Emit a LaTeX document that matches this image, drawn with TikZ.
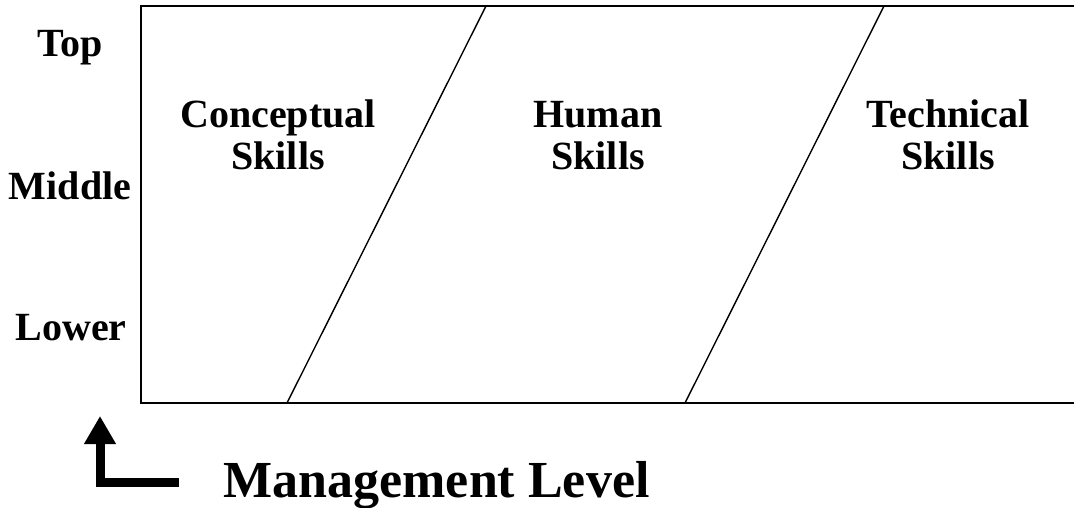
\documentclass[tikz,border=0pt]{standalone}
\usepackage{fontspec}
\setmainfont{Liberation Serif}
\usetikzlibrary{arrows.meta}

\begin{document}
\begin{tikzpicture}[x=1pt, y=-1pt,
    level/.style={font=\fontsize{40}{44}\selectfont\bfseries, anchor=base},
    skill/.style={font=\fontsize{40}{43}\selectfont\bfseries, align=center, anchor=base}]

    \useasboundingbox (0,0) rectangle (1074,508);

    % Frame
    \coordinate (tl) at (141,6);
    \coordinate (bl) at (141,403);
    \coordinate (tr) at (1076,6);
    \coordinate (br) at (1076,403);
    \draw[line width=2pt] (tr) -- (tl) -- (bl) -- (br);

    % Dividers
    \coordinate (a1) at (287,403);
    \coordinate (a2) at (486,6);
    \coordinate (b1) at (685,403);
    \coordinate (b2) at (884,6);
    \draw[line width=1.4pt] (a1) -- (a2);
    \draw[line width=1.4pt] (b1) -- (b2);

    % Levels
    \node[level] (top) at (70,57) {Top};
    \node[level] (middle) at (70,200) {Middle};
    \node[level] (lower) at (71,340) {Lower};

    % Skills (base = last line)
    \node[skill] (concept) at (278,170) {Conceptual\\Skills};
    \node[skill] (human) at (598,170) {Human\\Skills};
    \node[skill] (tech) at (948,170) {Technical\\Skills};

    % Axis label
    \node[font=\fontsize{52}{56}\selectfont\bfseries, anchor=base west] (mgmt) at (220,497) {Management Level};
    \coordinate (barend) at (179,482);
    \coordinate (corner) at (100,482);
    \coordinate (tip) at (100,416);
    \draw[line width=9pt, -{Triangle[width=30pt, length=28pt]}] (barend) -- (corner) -- (tip);

\end{tikzpicture}
\end{document}
